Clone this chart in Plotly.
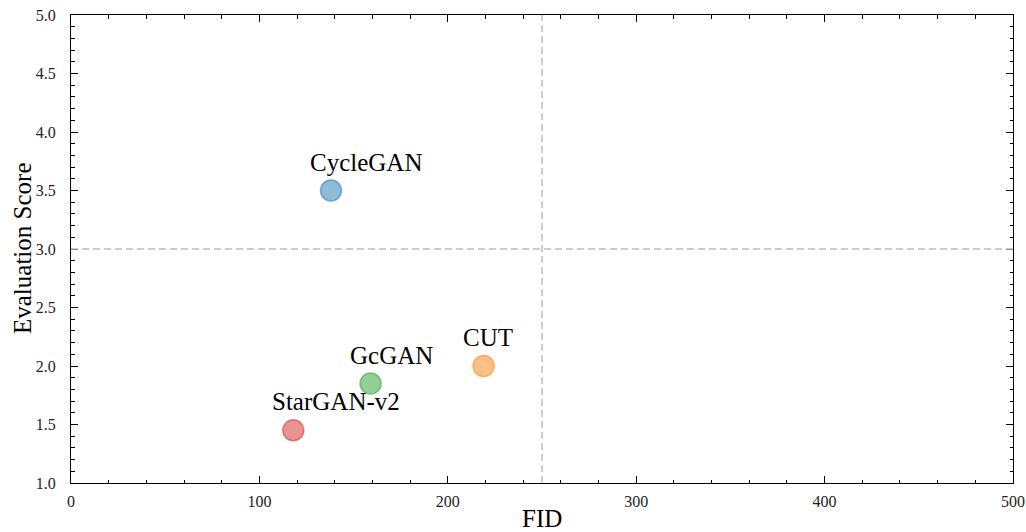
import plotly.graph_objects as go

models = ["CycleGAN", "CUT", "GcGAN", "StarGAN-v2"]
fid = [138, 219, 159, 118]
score = [3.5, 2.0, 1.85, 1.45]
colors = ["31,119,180", "255,127,14", "44,160,44", "214,39,40"]
fid_threshold = 250
score_threshold = 3.0
x_title = "FID"
y_title = "Evaluation Score"

SERIF = "Liberation Serif"

fig = go.Figure()
for m, x, y, c in zip(models, fid, score, colors):
    fig.add_trace(go.Scatter(
        x=[x], y=[y], mode="markers", name=m,
        marker=dict(size=21, color=f"rgba({c},0.5)", line=dict(color=f"rgba({c},0.55)", width=1.5)),
        showlegend=False, cliponaxis=False))
    fig.add_annotation(x=x, y=y, text=m, showarrow=False, xanchor="left", yanchor="bottom",
                       xshift=-22, yshift=14, borderpad=0,
                       font=dict(family=SERIF, size=25, color="black"))

fig.add_shape(type="line", x0=fid_threshold, x1=fid_threshold, y0=0, y1=1, yref="paper",
              line=dict(color="#bdbdbd", width=1.5, dash="7px,4px"))
fig.add_shape(type="line", x0=0, x1=1, xref="paper", y0=score_threshold, y1=score_threshold,
              line=dict(color="#bdbdbd", width=1.5, dash="7px,4px"))

# axis titles as paper annotations for exact placement
fig.add_annotation(x=0.5, y=0, xref="paper", yref="paper", text=x_title, showarrow=False,
                   xanchor="center", yanchor="middle", yshift=-35, borderpad=0,
                   font=dict(family=SERIF, size=25, color="black"))
fig.add_annotation(x=0, y=0.5, xref="paper", yref="paper", text=y_title, showarrow=False,
                   textangle=-90, xanchor="center", yanchor="middle", xshift=-49, borderpad=0,
                   font=dict(family=SERIF, size=25, color="black"))

axis_common = dict(showline=True, linecolor="black", linewidth=1, mirror="allticks",
                   ticks="inside", ticklen=7, tickwidth=1, tickcolor="black",
                   showgrid=False, zeroline=False, automargin=False,
                   tickfont=dict(family=SERIF, size=16, color="#222"))

fig.update_xaxes(range=[0, 500], tickvals=[0, 100, 200, 300, 400, 500],
                 ticklabelstandoff=4,
                 minor=dict(ticks="inside", ticklen=3.5, dtick=20, tickcolor="black", showgrid=False),
                 **axis_common)
fig.update_yaxes(range=[1.0, 5.0], tickvals=[1.0, 1.5, 2.0, 2.5, 3.0, 3.5, 4.0, 4.5, 5.0],
                 ticktext=["1.0", "1.5", "2.0", "2.5", "3.0", "3.5", "4.0", "4.5", "5.0"],
                 ticklabelstandoff=11,
                 minor=dict(ticks="inside", ticklen=3.5, dtick=0.1, tickcolor="black", showgrid=False),
                 **axis_common)

fig.update_layout(width=1026, height=532, margin=dict(l=71, r=13, t=15, b=49),
                  font=dict(family=SERIF),
                  plot_bgcolor="white", paper_bgcolor="white")
fig.write_html("out.html")
